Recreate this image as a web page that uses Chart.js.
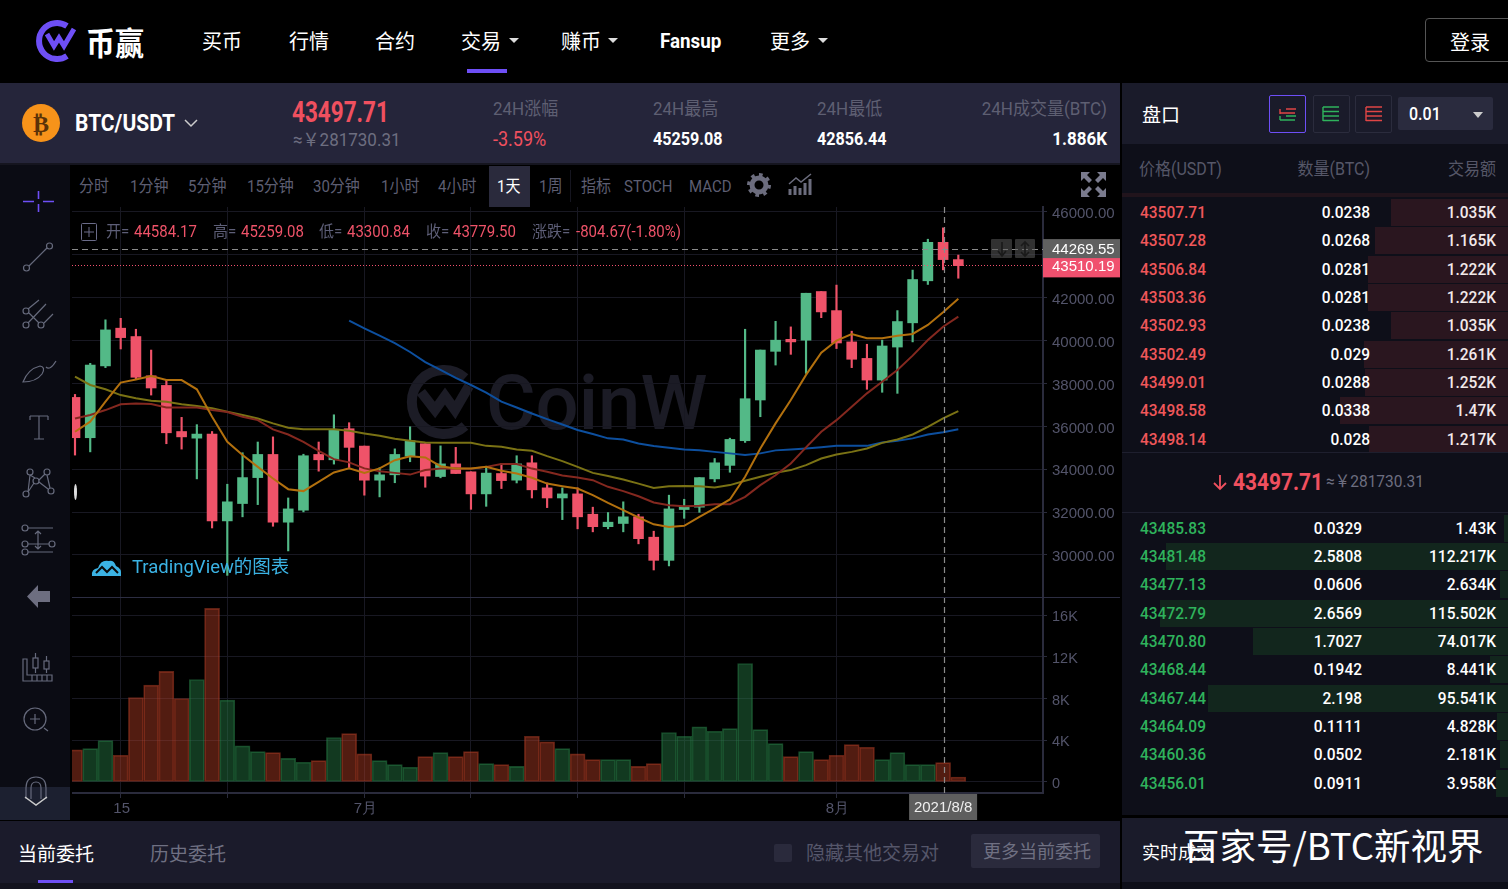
<!DOCTYPE html>
<html lang="zh"><head><meta charset="utf-8">
<script src="https://cdn.jsdelivr.net/npm/chart.js@4/dist/chart.umd.min.js"></script>
<style>
html,body{margin:0;padding:0;background:#000;width:1508px;height:889px;overflow:hidden;font-family:Roboto,"Noto Sans CJK SC",sans-serif}
#root{position:relative;width:1508px;height:889px;overflow:hidden}
.b{position:absolute}
.t{position:absolute;white-space:nowrap;line-height:1}
canvas{position:absolute;display:block}
svg{position:absolute;overflow:visible}
</style></head><body><div id="root"></div>
<script>
const candleOpen=[37350,35470,38820,40580,40190,38360,37910,35760,35450,35640,31590,32400,33610,34690,31530,32090,34690,34440,35890,35080,33490,33740,34610,35190,33660,34250,33880,32850,33800,33490,34300,33130,32660,32850,31900,31320,31470,31780,30830,29750,32120,32230,33550,34180,35330,37230,39500,40060,40020,42290,41400,39940,39170,38160,39700,40830,42790,44584.17,43779.5];
const candleHigh=[37490,38940,40970,41040,40530,39560,38160,36420,36080,35760,33300,34770,35270,35510,32660,34700,35270,36540,36170,35080,34070,34950,35980,35190,35090,35020,33880,34140,34270,34630,34630,33360,33130,33130,32230,31980,32480,31900,31110,32790,32600,33610,34500,35450,40530,39560,40900,40640,42210,42290,42590,40440,39830,40020,41400,43290,44730,45259.08,43990];
const candleLow=[34660,34810,38740,39610,38190,37460,35190,34940,33550,31260,29050,31780,32350,31340,30190,32010,33910,34240,34040,32790,32710,33370,34350,33160,33600,33800,32130,32270,33100,33360,32660,32210,31650,31220,31080,31220,31080,30520,29300,29490,31710,31990,33410,33860,35250,36450,38860,39360,38470,41070,39630,38740,37730,37590,37540,39940,42620,43300.84,42910];
const candleClose=[35470,38860,40500,40140,38290,37790,35700,35510,35640,31590,32480,33610,34690,31530,32150,34630,34440,35830,35020,33490,33740,34690,35330,33680,34250,33800,32850,33820,33470,34250,33040,32660,32850,31780,31320,31530,31780,30760,29750,32150,32270,33610,34300,35390,37290,39560,40020,39940,42210,41340,39890,39130,38160,39750,40890,42850,44584.17,43779.5,43497.71];
const ma5=[35750,36220,37150,38040,38190,38350,38160,38160,37730,36450,35280,34660,34110,33570,33070,32980,33410,33850,34040,33830,34040,34420,34610,34550,34140,34030,34030,34110,33930,33800,33600,33330,33210,33100,32790,32430,32090,31750,31430,31310,31360,31780,32170,32590,33650,34970,36140,37230,38400,39440,40000,40310,40110,40110,40230,40310,40730,41320,41950];
const ma10=[36370,36530,36760,37030,37070,37040,36880,36880,36880,36760,36670,36450,36290,35860,35620,35280,34860,34470,34320,34040,33910,33830,33750,33960,34030,34030,34020,34110,34240,34240,34030,33880,33710,33610,33490,33180,32980,32740,32450,32320,32270,32300,32370,32370,32710,33260,33720,34270,35020,35750,36290,36920,37540,38080,38630,39300,40030,40650,41120];
const ma30=[38320,37930,37730,37460,37310,37200,37150,37030,36950,36840,36680,36530,36370,36140,35940,35870,35860,35860,35790,35670,35560,35420,35330,35250,35230,35230,35230,35090,35050,34920,34860,34610,34380,34110,33830,33680,33520,33330,33130,33210,33220,33210,33150,33260,33460,33650,33830,33960,34190,34500,34690,34810,34970,35230,35390,35620,35980,36370,36710];
const ma60=[null,null,null,null,null,null,null,null,null,null,null,null,null,null,null,null,null,null,40930,40570,40230,39880,39470,39000,38630,38260,37930,37570,37150,36880,36600,36340,36090,35830,35640,35440,35390,35200,35080,35000,34920,34880,34810,34740,34660,34740,34880,34920,34970,35030,35090,35090,35090,35250,35330,35440,35620,35730,35870];
const volumeK=[3.07,3.2,3.97,2.56,8.1,9.28,10.6,8,9.82,16.64,7.84,3.46,2.91,2.82,2.27,1.89,2.05,4.26,4.64,2.69,2.05,1.66,1.41,2.43,2.82,2.43,2.91,1.76,1.66,1.5,4.38,3.84,3.2,2.69,2.14,2.14,2.14,1.5,1.76,4.74,4.38,5.28,4.86,5.12,11.36,5.02,3.68,2.43,2.91,2.14,2.56,3.58,3.33,2.14,2.82,1.66,1.66,1.86,0.48];
const priceTicks=[46000,44000,42000,40000,38000,36000,34000,32000,30000];
const volumeTicks=[16,12,8,4,0];
const xTickIdx=[3,10,19,26,33,40,50];
const xTickLabel=['15','','7月','','','','8月'];
const crossIdx=57, crossDate='2021/8/8';
const crossPrice=44269.55, lastPrice=43510.19;

const askPrice=['43507.71','43507.28','43506.84','43503.36','43502.93','43502.49','43499.01','43498.58','43498.14'];
const askQty=['0.0238','0.0268','0.0281','0.0281','0.0238','0.029','0.0288','0.0338','0.028'];
const askTotal=['1.035K','1.165K','1.222K','1.222K','1.035K','1.261K','1.252K','1.47K','1.217K'];
const askDepth=[117,133,140,140,117,144,143,168,139];
const bidPrice=['43485.83','43481.48','43477.13','43472.79','43470.80','43468.44','43467.44','43464.09','43460.36','43456.01'];
const bidQty=['0.0329','2.5808','0.0606','2.6569','1.7027','0.1942','2.198','0.1111','0.0502','0.0911'];
const bidTotal=['1.43K','112.217K','2.634K','115.502K','74.017K','8.441K','95.541K','4.828K','2.181K','3.958K'];
const bidDepth=[4,342,8,348,255,18,300,11,8,12];
const navItems=[['买币',202],['行情',289],['合约',375],['交易',461],['赚币',561],['Fansup',660],['更多',770]];
const tfItems=[['分时',79],['1分钟',130],['5分钟',188],['15分钟',247],['30分钟',313],['1小时',381],['4小时',438],['1天',497],['1周',539],['指标',581],['STOCH',624],['MACD',689]];

const root=document.getElementById('root');
function box(x,y,w,h,bg,extra){const d=document.createElement('div');d.className='b';d.style.cssText+=`left:${x}px;top:${y}px;width:${w}px;height:${h}px;background:${bg};${extra||''}`;root.appendChild(d);return d}
function T(s,x,y,size,color,o){o=o||{};const d=document.createElement('div');d.className='t';d.textContent=s;
 const sy=o.sy||1.1,sx=o.sx||1;
 d.style.cssText+=`top:${y}px;font-size:${size}px;color:${color};font-weight:${o.w||400};`+(o.r?`right:${1508-x}px;transform-origin:right center;`:`left:${x}px;transform-origin:left center;`)+`transform:translateY(-50%) scale(${sx},${sy});`+(o.ff?`font-family:${o.ff};`:'')+(o.ls?`letter-spacing:${o.ls}px;`:'');
 root.appendChild(d);return d}
function S(html,x,y,w,h){const ns='http://www.w3.org/2000/svg';const s=document.createElementNS(ns,'svg');s.setAttribute('width',w);s.setAttribute('height',h);s.setAttribute('viewBox',`0 0 ${w} ${h}`);s.style.left=x+'px';s.style.top=y+'px';s.innerHTML=html;root.appendChild(s);return s}

// panels
box(0,83,1120,80,'#25253a');
box(0,163,1120,2,'#15151f');
box(0,165,70,655,'#0b0c14');
box(0,787,70,33,'#1c2030');
box(0,821,1120,62,'#1b1b2b');
box(0,883,1120,6,'#13131e');
box(1122,83,386,61,'#1a1b2a');
box(1122,144,386,671,'#0e0f19');
box(1122,818,386,64,'#1a1b2a');
box(1122,882,386,7,'#0e0f19');

// watermark
S('<path d="M60 10A32 32 0 1 0 60 58" fill="none" stroke="#1c1c26" stroke-width="10"/><path d="M16 24L30 42L40 28L50 42L64 18" fill="none" stroke="#1c1c26" stroke-width="10"/>',405,368,70,70);
T('CoinW',486,403,76,'#1b1b25',{w:500,sy:1});

// header
S('<path d="M29 5A18 18 0 1 0 29 35" fill="none" stroke="#6e4ff6" stroke-width="6"/><path d="M9 13L16 25L21 17L26 25L36 8" fill="none" stroke="#6e4ff6" stroke-width="5"/>',38,21,40,40);
T('币赢',86,41,29,'#fff',{w:700,ff:'"Noto Sans CJK SC"'});
navItems.forEach(n=>T(n[0],n[1],41,20,'#fff',{w:n[0]==='Fansup'?700:400,sy:1,sx:n[0]==='Fansup'?.94:1,ff:n[0]==='Fansup'?'Roboto':'"Noto Sans CJK SC"'}));
[509,608,818].forEach(x=>S('<path d="M0 0H10L5 5Z" fill="#ddd"/>',x,38,10,5));
box(467,69,40,4,'#6e4ff6');
box(1425,18,100,42,'transparent','border:1px solid #555;border-radius:4px');
T('登录',1450,42,20,'#fff',{sy:1,ff:'"Noto Sans CJK SC"'});

// ticker
S('<circle cx="19" cy="19" r="19" fill="#f7931a"/>',22,104,38,38);
T('₿',33,124,24,'#5a3208',{w:700,ff:'"DejaVu Sans"',sy:1});
T('BTC/USDT',75,124,21,'#fff',{w:700,sx:1,sy:1.15});
S('<path d="M0 0L6 6L12 0" fill="none" stroke="#ccc" stroke-width="1.5"/>',185,120,12,8);
T('43497.71',292,112,25,'#f0505f',{w:700,sx:.9,sy:1.15});
T('≈￥281730.31',293,140,17,'#6d6e80',{sx:1});
T('24H涨幅',493,109,17,'#5e5f72');
T('-3.59%',493,139,18,'#f0505f');
T('24H最高',653,109,17,'#5e5f72');
T('45259.08',653,139,17,'#fff',{w:700,sx:.95});
T('24H最低',817,109,17,'#5e5f72');
T('42856.44',817,139,17,'#fff',{w:700,sx:.95});
T('24H成交量(BTC)',1107,109,17,'#5e5f72',{r:1});
T('1.886K',1107,139,17,'#fff',{w:700,r:1});

// toolbar
box(489,166,41,41,'#2a2a3c');
tfItems.forEach(n=>T(n[0],n[1],187,15,n[0]==='1天'?'#fff':'#5d5e72',{sy:1.1}));
box(570,170,1,32,'#15151f');
S('<circle cx="12" cy="12" r="7" fill="none" stroke="#6c6d7e" stroke-width="5"/><circle cx="12" cy="12" r="10" fill="none" stroke="#6c6d7e" stroke-width="4" stroke-dasharray="3.5 4.3"/>',747,173,24,24);
S('<path d="M2 22V16M7 22V13M12 22V15M17 22V10M22 22V6" stroke="#6c6d7e" stroke-width="3"/><path d="M1 11L8 5L13 9L23 1" fill="none" stroke="#6c6d7e" stroke-width="1.5"/>',788,173,25,24);
S('<g fill="#7a7b8e"><path d="M0 0H9L6 3L11 8L8 11L3 6L0 9Z"/><path d="M25 0V9L22 6L17 11L14 8L19 3L16 0Z"/><path d="M0 25V16L3 19L8 14L11 17L6 22L9 25Z"/><path d="M25 25H16L19 22L14 17L17 14L22 19L25 16Z"/></g>',1081,172,25,25);

// left tools (coordinates relative to the panel at y=165)
S(`<g fill="none" stroke="#666a7c" stroke-width="1.2">
<circle cx="26.5" cy="103" r="3"/><circle cx="49.5" cy="81" r="3"/><path d="M29 101L47 83"/>
<circle cx="26" cy="146" r="3"/><circle cx="26" cy="160" r="3"/><circle cx="41" cy="160" r="3"/>
<path d="M28 144L39 135M29 148L39 158M28 158L46 139M44 158L53 149"/>
<path d="M23 217Q28 204 40 201Q46 202 42 209Q36 217 23 217ZM46 202Q50 206 56 196"/>
<path d="M30 251H48M39 251V274M34 274H44M30 251V255M48 251V255"/>
<circle cx="30" cy="307" r="3"/><circle cx="47" cy="307" r="3"/><circle cx="26" cy="329" r="3"/><circle cx="51" cy="326" r="3"/><circle cx="36" cy="316" r="3"/>
<path d="M28 327L30 310M30 310L35 313M28 327L34 318M39 315L45 309M39 317L48 324M47 310L50 323"/>
<circle cx="25" cy="363" r="3"/><circle cx="25" cy="379" r="3"/><circle cx="25" cy="387" r="3"/><circle cx="52" cy="379" r="3"/>
<path d="M28 363H53M28 387H53M28 379H49M38 366V384M35 369L38 366L41 369M35 381L38 384L41 381"/>
<path d="M23 516H52V510H27V494H23ZM32 510V516M37 510V516M42 510V516M47 510V516"/>
<rect x="33" y="493" width="5" height="10"/><path d="M35.5 488V493M35.5 503V508"/><rect x="44" y="496" width="5" height="8"/><path d="M46.5 491V496M46.5 504V508"/>
<circle cx="35" cy="554" r="11"/><path d="M35 549V559M30 554H40M44 563L48 566"/>
<path d="M26 634V623Q26 612 36 612Q46 612 46 623V634M31 634V623Q31 617 36 617Q41 617 41 623V634"/>
</g>
<path d="M38 420L27 431.5L38 443V437H50V426H38Z" fill="#6d6e80"/>
<path d="M38.5 26V34M38.5 39V47M23 36.5H34M43 36.5H54" stroke="#6e4ff6" stroke-width="1.6" fill="none"/>
<path d="M25 632L36 640L47 632" fill="none" stroke="#ccc" stroke-width="1.5"/>`,0,165,70,655);

// order book
T('盘口',1142,113,19,'#fff',{ff:'"Noto Sans CJK SC"',sy:1});
box(1269,95,35,36,'transparent','border:1px solid #6e4ff6;border-radius:2px');
box(1313,95,35,36,'transparent','border:1px solid #2b2c3d;border-radius:2px');
box(1355,95,35,36,'transparent','border:1px solid #2b2c3d;border-radius:2px');
S('<path d="M7 3H17M1 7H16" stroke="#e04545" stroke-width="1.4"/><path d="M1 3V8" stroke="#e04545" stroke-width="1.4"/><path d="M1 10V14M7 10H17M1 14H16" stroke="#2fb35c" stroke-width="1.4"/>',1279,106,18,16);
S('<path d="M1 1V15M1 1H17M1 5.5H17M1 10H17M1 14.5H17" stroke="#2fb35c" stroke-width="1.4" fill="none"/>',1322,106,18,16);
S('<path d="M1 1V15M1 1H17M1 5.5H17M1 10H17M1 14.5H17" stroke="#e04545" stroke-width="1.4" fill="none"/>',1365,106,18,16);
box(1398,97,95,33,'#2a2b3e','border-radius:2px');
T('0.01',1409,114,16,'#fff',{w:500});
S('<path d="M0 0H10L5 6Z" fill="#ccc"/>',1473,112,10,6);
T('价格(USDT)',1139,169,16,'#565768');
T('数量(BTC)',1370,169,16,'#565768',{r:1});
T('交易额',1496,169,16,'#565768',{r:1});
box(1122,193,386,4,'#21141c');
const askY=[212,240,269,297,325,354,382,410,439], bidY=[528,556,584,613,641,669,698,726,754,783];
askPrice.forEach((p,i)=>{box(1508-askDepth[i],askY[i]-13.5,askDepth[i],27,'#2a161f');
 T(p,1140,askY[i]+1,15.5,'#f0575a',{w:500});T(askQty[i],1370,askY[i]+1,15.5,'#fff',{w:500,r:1});T(askTotal[i],1496,askY[i]+1,15.5,'#f2e9ea',{w:500,r:1});});
box(1122,452,386,1,'#1e1f2e');box(1122,512,386,1,'#1e1f2e');
S('<path d="M7 1V15M1 9L7 15L13 9" fill="none" stroke="#f0505f" stroke-width="1.8"/>',1213,474,14,16);
T('43497.71',1233,482,22,'#f0505f',{w:700,sx:.95});
T('≈￥281730.31',1326,482,15.5,'#6d6e80');
bidPrice.forEach((p,i)=>{box(1508-bidDepth[i],bidY[i]-13.5,bidDepth[i],27,'#12261d');
 T(p,1140,bidY[i]+1,15.5,'#2fb35c',{w:500});T(bidQty[i],1362,bidY[i]+1,15.5,'#fff',{w:500,r:1});T(bidTotal[i],1496,bidY[i]+1,15.5,'#fff',{w:500,r:1});});

// bottom
T('当前委托',18,852,19,'#fff',{ff:'"Noto Sans CJK SC"',sy:1});
T('历史委托',150,852,19,'#6f7082',{ff:'"Noto Sans CJK SC"',sy:1});
box(38,880,35,3,'#6e4ff6');
box(774,844,18,18,'#2a2a3c','border-radius:2px');
T('隐藏其他交易对',806,851,19,'#55566a',{ff:'"Noto Sans CJK SC"',sy:1});
box(971,834,129,34,'#2a2a3c','border-radius:2px');
T('更多当前委托',983,850,18,'#6f7082',{ff:'"Noto Sans CJK SC"',sy:1});
T('实时成交',1142,851,18,'#fff',{ff:'"Noto Sans CJK SC"',sy:1});

// charts
function pane(x,y,w,h){const c=document.createElement('canvas');c.width=w;c.height=h;c.style.cssText=`left:${x}px;top:${y}px;width:${w}px;height:${h}px`;root.appendChild(c);return c}
const GRID='#181822',AXIS='#2a2b3c',LABEL='#53546a';
const RED='#ef5369',GREEN='#53b987';
const up=candleClose.map((c,i)=>c>=candleOpen[i]);
const candleColor=up.map(u=>u?GREEN:RED);
const xMin=-0.197,xMax=63.56;
const xBase={type:'linear',offset:false,min:xMin,max:xMax,afterBuildTicks:s=>{s.ticks=xTickIdx.map(v=>({value:v}))}};
function noPad(s){s.paddingTop=0;s.paddingBottom=0;s.paddingLeft=0;s.paddingRight=0}
function line(d,c,o){return {type:'line',data:d.map((v,i)=>({x:i,y:v})),borderColor:c,borderWidth:2,pointRadius:0,tension:0,order:o,spanGaps:false}}
const crossPlugin={id:'cross',afterDatasetsDraw(ch){const g=ch.ctx,a=ch.chartArea,x=Math.round(ch.scales.x.getPixelForValue(crossIdx))+1.5;
 g.save();g.strokeStyle='#8a8a8a';g.lineWidth=1.2;g.setLineDash([6,4]);g.beginPath();g.moveTo(x,a.top);g.lineTo(x,a.bottom);g.stroke();g.restore();}};
const refPlugin={id:'refs',afterDraw(ch){const g=ch.ctx,a=ch.chartArea,s=ch.scales.y;
 const yL=s.getPixelForValue(lastPrice),yC=s.getPixelForValue(crossPrice);
 g.save();
 g.strokeStyle='#f0506e';g.lineWidth=1;g.setLineDash([1,2]);g.beginPath();g.moveTo(a.left,Math.round(yL)+.5);g.lineTo(a.right,Math.round(yL)+.5);g.stroke();
 g.strokeStyle='#8a8a8a';g.lineWidth=1.2;g.setLineDash([6,4]);g.beginPath();g.moveTo(a.left,Math.round(yC)+.5);g.lineTo(a.right,Math.round(yC)+.5);g.stroke();
 g.setLineDash([]);
 g.font='15px "Liberation Sans"';g.textBaseline='middle';g.textAlign='left';
 g.fillStyle='#f0506e';g.fillRect(a.right,yL-8,77,20);
 g.fillStyle='#fff';g.fillText(lastPrice.toFixed(2),a.right+9,yL+1);
 g.fillStyle='#606060';g.fillRect(a.right,yC-10,77,19);
 g.fillStyle='#fff';g.fillText(crossPrice.toFixed(2),a.right+9,yC+1);
 g.restore();}};
const dateTag={id:'dateTag',afterDraw(ch){const g=ch.ctx,a=ch.chartArea,x=ch.scales.x.getPixelForValue(crossIdx);
 g.save();g.fillStyle='#5e5e5e';g.fillRect(x-34,a.bottom+1,68,26);g.fillStyle='#eee';g.font='15px "Liberation Sans"';g.textAlign='center';g.textBaseline='middle';g.fillText(crossDate,x,a.bottom+15);g.restore();}};

new Chart(pane(72,199,1048,398),{
 data:{datasets:[
  line(ma5,'#b2700e',1),line(ma10,'#84281f',2),line(ma30,'#7a7214',3),line(ma60,'#0d4f9e',4),
  {type:'bar',order:10,data:candleOpen.map((o,i)=>({x:i,y:[o,candleClose[i]]})),backgroundColor:candleColor,borderWidth:0,borderSkipped:false,barThickness:10,grouped:false},
  {type:'bar',order:11,data:candleHigh.map((h,i)=>({x:i,y:[candleLow[i],h]})),backgroundColor:candleColor,borderWidth:0,borderSkipped:false,barThickness:1.5,grouped:false}
 ]},
 options:{responsive:false,animation:false,events:[],layout:{padding:{top:8}},
  plugins:{legend:{display:false},tooltip:{enabled:false}},
  scales:{
   x:{...xBase,ticks:{display:false},grid:{color:GRID,drawTicks:false,offset:false},border:{display:false},afterFit:s=>{s.height=0;noPad(s)}},
   y:{type:'linear',position:'right',min:28040,max:46233,afterBuildTicks:s=>{s.ticks=priceTicks.map(v=>({value:v}))},
      ticks:{color:LABEL,font:{family:'"Liberation Sans"',size:15},padding:5,crossAlign:'near',labelOffset:2,callback:v=>Number(v).toFixed(2)},
      grid:{color:GRID,tickLength:4,tickColor:AXIS,offset:false},border:{color:AXIS,width:2},afterFit:s=>{s.width=77;noPad(s)}}
  }},
 plugins:[crossPlugin,refPlugin]
});

new Chart(pane(72,597,1048,224),{
 data:{datasets:[{type:'bar',data:volumeK.map((v,i)=>({x:i,y:v})),
   backgroundColor:up.map(u=>u?'rgba(40,124,70,.46)':'rgba(178,62,38,.46)'),
   borderColor:up.map(u=>u?'rgba(44,140,78,.5)':'rgba(190,66,40,.5)'),
   borderWidth:1,borderSkipped:false,barThickness:15,grouped:false}]},
 options:{responsive:false,animation:false,events:[],layout:{padding:0},
  plugins:{legend:{display:false},tooltip:{enabled:false}},
  scales:{
   x:{...xBase,ticks:{color:LABEL,font:{family:'"Liberation Sans"',size:15},autoSkip:false,maxRotation:0,padding:2,labelOffset:1,callback:(v,i)=>xTickLabel[i]},
      grid:{color:GRID,tickLength:5,tickColor:AXIS,offset:false},border:{color:AXIS,width:2},afterFit:s=>{s.height=28;noPad(s)}},
   y:{type:'linear',position:'right',min:-1.056,max:17.73,afterBuildTicks:s=>{s.ticks=volumeTicks.map(v=>({value:v}))},
      ticks:{color:LABEL,font:{family:'"Liberation Sans"',size:14.5},padding:5,crossAlign:'near',labelOffset:2,callback:v=>v===0?'0':v+'K'},
      grid:{color:GRID,tickLength:4,tickColor:AXIS,offset:false},border:{color:AXIS,width:2},afterFit:s=>{s.width=77;noPad(s)}}
  }},
 plugins:[crossPlugin,dateTag]
});

// overlays above the charts
box(72,596.5,1048,1,'#2c2d42');
box(991,239,21,19,'rgba(90,90,90,.55)','border-radius:1px');
box(1015,239,20,19,'rgba(90,90,90,.55)','border-radius:1px');
S('<path d="M5 0V13M1 9L5 14L9 9" fill="none" stroke="#1a1a1a" stroke-width="1.6"/>',997,242,10,14);
S('<path d="M5 1V13M1 4L5 0L9 4M1 10L5 14L9 10" fill="none" stroke="#1a1a1a" stroke-width="1.6"/>',1020,242,10,14);
box(74,484,3,16,'#ddd','border-radius:50%');
S('<rect x="0.5" y="0.5" width="15" height="17" rx="1" fill="none" stroke="#6a6b88"/><path d="M8 4V14M3 9H13" stroke="#6a6b88"/>',81,223,16,18);
[['开=',106,'#5e5f78'],['44584.17',134,RED],['高=',213,'#5e5f78'],['45259.08',241,RED],['低=',319,'#5e5f78'],['43300.84',347,RED],['收=',426,'#5e5f78'],['43779.50',453,RED],['涨跌=',532,'#5e5f78'],['-804.67(-1.80%)',576,RED]].forEach(a=>T(a[0],a[1],232,15,a[2],{sy:1.05}));
S('<path d="M0 18Q-1 11 6 10Q9 1 17 3Q22 2 24 8Q30 10 29 18Z" fill="#3bb3e4"/><path d="M4 15L10 9L15 14L20 9L26 15" fill="none" stroke="#0a0a0a" stroke-width="2"/>',92,558,30,18);
T('TradingView的图表',132,567,18.5,'#3bb3e4',{sy:1});
T('百家号/BTC新视界',1183,845,36.5,'#fff',{ff:'"Noto Sans CJK SC"',sy:1});
</script></body></html>
